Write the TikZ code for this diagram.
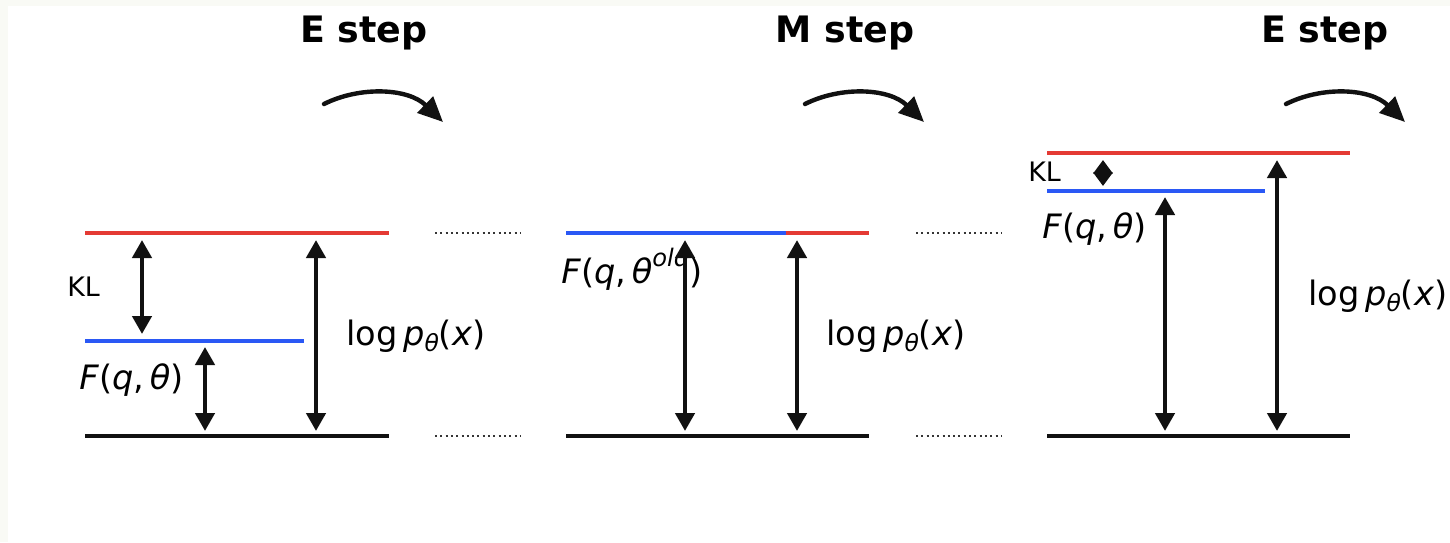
\documentclass[tikz,border=0pt]{standalone}
\usepackage{fontspec}
\setmainfont{DejaVu Sans}
\usetikzlibrary{arrows.meta}
\definecolor{lvred}{RGB}{228,58,52}
\definecolor{lvblue}{RGB}{42,88,245}
\definecolor{bgoff}{RGB}{249,250,245}
\definecolor{ink}{RGB}{17,17,17}
\newcommand\lgp{log\,\textit{p}\raisebox{-0.35ex}{\scalebox{0.7}{\textit{θ}}}(\textit{x})}
\newcommand\fq[1]{\textit{F}(\textit{q},\,\textit{θ}#1)}
\begin{document}
\begin{tikzpicture}[x=0.5pt,y=-0.5pt,
  level/.style={line width=2.3pt},
  gap/.style={ink,line width=2.2pt,{Triangle[width=9.5pt,length=9pt]}-{Triangle[width=9.5pt,length=9pt]}},
  smallgap/.style={ink,line width=2.2pt,{Triangle[width=9.5pt,length=6.8pt]}-{Triangle[width=9.5pt,length=6.8pt]}},
  steparrow/.style={ink,line width=2.2pt,line cap=round,-{Triangle[width=11pt,length=12.5pt]}},
  title/.style={font=\fontsize{18.2}{22}\selectfont\bfseries,inner sep=0pt,anchor=base},
  lab/.style={font=\fontsize{16.8}{20}\selectfont,inner sep=0pt,anchor=base west},
  kl/.style={font=\fontsize{13.4}{16}\selectfont,inner sep=0pt,anchor=base west},
  dotline/.style={ink!85,line width=1pt,dash pattern=on 1pt off 1.65pt}]
\useasboundingbox (0,0) rectangle (1450,542);
\fill[bgoff] (0,0) rectangle (1450,542);
\fill[white] (8,6) rectangle (1450,542);

% ---------- Panel 1 ----------
\coordinate (r1a) at (85,233); \coordinate (r1b) at (389,233);
\coordinate (b1a) at (85,341); \coordinate (b1b) at (304,341);
\coordinate (k1a) at (85,436); \coordinate (k1b) at (389,436);
\draw[level,lvred] (r1a) -- (r1b);
\draw[level,lvblue] (b1a) -- (b1b);
\draw[level,ink] (k1a) -- (k1b);
\coordinate (a1t) at (142,240); \coordinate (a1b) at (142,334);
\coordinate (a2t) at (205,347); \coordinate (a2b) at (205,431);
\coordinate (a3t) at (316,240); \coordinate (a3b) at (316,431);
\draw[gap] (a1t) -- (a1b);
\draw[gap] (a2t) -- (a2b);
\draw[gap] (a3t) -- (a3b);
\node[kl] (kl1) at (67,296) {KL};
\node[lab] (f1) at (79,389) {\fq{}};
\node[lab] (lp1) at (346,345) {\lgp};
\coordinate (d1a) at (435,233); \coordinate (d1b) at (520,233);
\coordinate (d2a) at (435,436); \coordinate (d2b) at (520,436);
\draw[dotline] (d1a) -- (d1b);
\draw[dotline] (d2a) -- (d2b);
\node[title] (t1) at (364,42) {E step};
\coordinate (s1a) at (324,104); \coordinate (s1b) at (443,122);
\draw[steparrow] (s1a) .. controls (360,86) and (408,88) .. (s1b);

% ---------- Panel 2 ----------
\coordinate (r2a) at (566,233); \coordinate (r2b) at (869,233);
\coordinate (b2b) at (786,233);
\coordinate (k2a) at (566,436); \coordinate (k2b) at (869,436);
\draw[level,lvred] (r2a) -- (r2b);
\draw[level,lvblue] (r2a) -- (b2b);
\draw[level,ink] (k2a) -- (k2b);
\node[lab] (f2) at (561,283) {\fq{\raisebox{0.9ex}{\scalebox{0.72}{\textit{old}}}}};
\coordinate (a4t) at (685,240); \coordinate (a4b) at (685,431);
\coordinate (a5t) at (797,240); \coordinate (a5b) at (797,431);
\draw[gap] (a4t) -- (a4b);
\draw[gap] (a5t) -- (a5b);
\node[lab] (lp2) at (826,345) {\lgp};
\coordinate (d3a) at (916,233); \coordinate (d3b) at (1001,233);
\coordinate (d4a) at (916,436); \coordinate (d4b) at (1001,436);
\draw[dotline] (d3a) -- (d3b);
\draw[dotline] (d4a) -- (d4b);
\node[title] (t2) at (845,42) {M step};
\coordinate (s2a) at (805,104); \coordinate (s2b) at (924,122);
\draw[steparrow] (s2a) .. controls (841,86) and (889,88) .. (s2b);

% ---------- Panel 3 ----------
\coordinate (r3a) at (1047,153); \coordinate (r3b) at (1350,153);
\coordinate (b3a) at (1047,191); \coordinate (b3b) at (1265,191);
\coordinate (k3a) at (1047,436); \coordinate (k3b) at (1350,436);
\draw[level,lvred] (r3a) -- (r3b);
\draw[level,lvblue] (b3a) -- (b3b);
\draw[level,ink] (k3a) -- (k3b);
\coordinate (a6t) at (1103,160); \coordinate (a6b) at (1103,186);
\coordinate (a7t) at (1165,197); \coordinate (a7b) at (1165,431);
\coordinate (a8t) at (1277,160); \coordinate (a8b) at (1277,431);
\draw[smallgap] (a6t) -- (a6b);
\draw[gap] (a7t) -- (a7b);
\draw[gap] (a8t) -- (a8b);
\node[kl] (kl3) at (1028,181) {KL};
\node[lab] (f3) at (1042,238) {\fq{}};
\node[lab] (lp3) at (1308,305) {\lgp};
\node[title] (t3) at (1325,42) {E step};
\coordinate (s3a) at (1286,104); \coordinate (s3b) at (1405,122);
\draw[steparrow] (s3a) .. controls (1322,86) and (1370,88) .. (s3b);
\end{tikzpicture}
\end{document}
